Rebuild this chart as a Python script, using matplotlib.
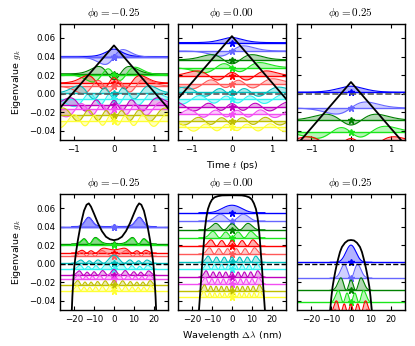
import numpy as np
import matplotlib
matplotlib.use('Agg')
import matplotlib.pyplot as plt

plt.rcParams['mathtext.fontset'] = 'cm'
plt.rcParams['font.size'] = 6.2
plt.rcParams['xtick.direction'] = 'in'
plt.rcParams['ytick.direction'] = 'in'
plt.rcParams['xtick.top'] = True
plt.rcParams['ytick.right'] = True
plt.rcParams['xtick.major.size'] = 3
plt.rcParams['ytick.major.size'] = 3
plt.rcParams['axes.linewidth'] = 1.0

# ---- data ----
phi0 = [-0.25, 0.00, 0.25]

# eigenvalues g_k (same in time and wavelength rows)
levels = [
    [0.0400, 0.0395, 0.0213, 0.0205, 0.0115, 0.0080, 0.0005, -0.0060, -0.0125, -0.0170, -0.0235, -0.0290],
    [0.0550, 0.0460, 0.0365, 0.0280, 0.0190, 0.0105, 0.0015, -0.0063, -0.0143, -0.0215, -0.0295, -0.0365],
    [0.0015, -0.0155, -0.0287, -0.0417, -0.0530, -0.0620],
]

# height of the modes above their level
peak_time = [0.008, 0.0055, 0.0065]
peak_wave = [0.010, 0.008, 0.0185]

# time-domain potential: triangle peak and slope (per ps)
tri_peak = [0.052, 0.062, 0.0125]
tri_slope = 0.05

# wavelength-domain potential, right half (nm >= 0), symmetric
spec_x = [
    [0, 2, 4, 6, 8, 10, 11.5, 12.6, 13.7, 15, 16, 17, 18, 19, 19.8, 20.4, 20.8, 21.1],
    [0, 5, 7, 8.7, 10, 11, 12, 12.8, 13.5, 14, 14.5, 14.9, 15.5, 16, 16.5],
    [0, 1.5, 3, 4.5, 5.5, 6.3, 7, 7.8, 8.5, 9.2, 9.8, 10.4],
]
spec_v = [
    [0.0253, 0.0263, 0.029, 0.035, 0.0435, 0.054, 0.0615, 0.065, 0.0635, 0.057, 0.048, 0.038,
     0.026, 0.012, -0.002, -0.02, -0.035, -0.05],
    [0.0738, 0.0736, 0.0728, 0.0715, 0.069, 0.065, 0.059, 0.05, 0.038, 0.025, 0.01, 0.0,
     -0.02, -0.035, -0.05],
    [0.0255, 0.025, 0.0225, 0.018, 0.0125, 0.006, 0.0, -0.008, -0.016, -0.025, -0.036, -0.05],
]

col1 = [(0, 0, 1), (0, 0.5, 0), (1, 0, 0), (0, 0.75, 0.75), (0.75, 0, 0.75), (0.75, 0.75, 0)]
col2 = [(0.4, 0.4, 1), (0.1, 0.9, 0.1), (1, 0.35, 0.35), (0.2, 0.95, 0.95), (0.95, 0.3, 0.95), (1, 1, 0.2)]


def modes(x, V, lev):
    # eigenmodes of D d2/dx2 + V; D chosen so the spread of the
    # first len(lev) eigenvalues matches the spread of the levels
    n = len(lev)
    h = x[1] - x[0]
    m = len(x)
    lap = (np.eye(m, k=1) + np.eye(m, k=-1) - 2 * np.eye(m)) / h**2
    lo, hi = -9.0, 1.0
    for _ in range(34):
        mid = 0.5 * (lo + hi)
        ev = np.linalg.eigvalsh(10**mid * lap + np.diag(V))[::-1]
        if ev[0] - ev[n - 1] > lev[0] - lev[-1]:
            hi = mid
        else:
            lo = mid
    w, v = np.linalg.eigh(10**mid * lap + np.diag(V))
    return v[:, ::-1][:, :n]


def draw_modes(ax, x, psi, lev, signed, peak):
    scale = peak / (psi[:, 0]**2).max()
    for k, g in enumerate(lev):
        c = col1[k // 2] if k % 2 == 0 else col2[k // 2]
        p = psi[:, k]
        if signed:
            # time domain: field, every mode with the same height
            idx = np.where(np.abs(p) > 0.3 * np.abs(p).max())[0][-1]
            if p[idx] < 0:
                p = -p
            y = peak * p / np.abs(p).max()
        else:
            y = scale * p**2
        ax.axhline(g, color=c, lw=1.0)
        ax.fill_between(x, g, g + y, color=c, alpha=0.3, lw=0)
        ax.plot(x, g + y, color=c, lw=0.8)
        ax.plot(0, g, '*', color=c, ms=4.5, mec=c)


fig = plt.figure(figsize=(4.15, 3.46), dpi=100)
lefts = [0.1446, 0.4289, 0.7157]
W, H = 0.260, 0.335

for i in range(3):
    # time domain
    ax = fig.add_axes([lefts[i], 0.5954, W, H])
    t = np.linspace(-4, 4, 401)
    V = np.interp(t, [-4, 0, 4], [tri_peak[i] - 4 * tri_slope, tri_peak[i], tri_peak[i] - 4 * tri_slope])
    psi = modes(t, V, levels[i])
    draw_modes(ax, t, psi, levels[i], True, peak_time[i])
    ax.axhline(0, color='0.35', ls='--', lw=1.2)
    ax.plot(t, V, 'k', lw=1.3)
    ax.set_xlim(-1.35, 1.35)
    ax.set_ylim(-0.05, 0.075)
    ax.set_xticks([-1, 0, 1])
    ax.set_yticks([-0.04, -0.02, 0.0, 0.02, 0.04, 0.06])
    ax.set_title(r'$\phi_0 = %.2f$' % phi0[i], fontsize=8)
    if i == 0:
        ax.set_ylabel(r'Eigenvalue $g_k$', fontsize=6.8)
    else:
        ax.set_yticklabels([])
    if i == 1:
        ax.set_xlabel(r'Time $t$ (ps)', fontsize=6.8)

    # wavelength domain
    ax = fig.add_axes([lefts[i], 0.104, W, H])
    xs = np.array(spec_x[i])
    vs = np.array(spec_v[i])
    xf = np.concatenate([-xs[::-1], xs[1:]])
    vf = np.concatenate([vs[::-1], vs[1:]])
    lam = np.linspace(xf[0], xf[-1], 401)
    Vl = np.interp(lam, xf, vf)
    psi = modes(lam, Vl, levels[i])
    draw_modes(ax, lam, psi, levels[i], False, peak_wave[i])
    ax.axhline(0, color='k', ls='--', lw=1.0)
    ax.plot(xf, vf, 'k', lw=1.3)
    ax.set_xlim(-27, 27)
    ax.set_ylim(-0.05, 0.075)
    ax.set_xticks([-20, -10, 0, 10, 20])
    ax.set_yticks([-0.04, -0.02, 0.0, 0.02, 0.04, 0.06])
    ax.set_title(r'$\phi_0 = %.2f$' % phi0[i], fontsize=8)
    if i == 0:
        ax.set_ylabel(r'Eigenvalue $g_k$', fontsize=6.8)
    else:
        ax.set_yticklabels([])
    if i == 1:
        ax.set_xlabel(r'Wavelength $\Delta\lambda$ (nm)', fontsize=6.8)

fig.savefig('out.png', dpi=100)
